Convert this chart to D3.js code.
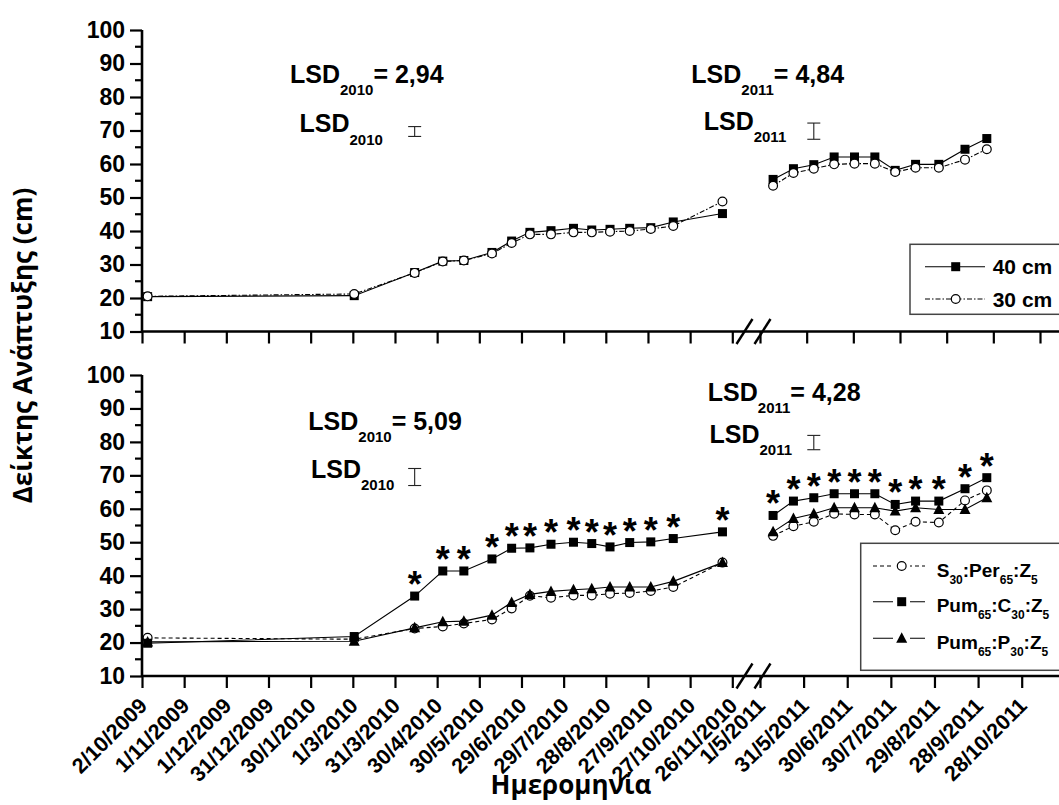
<!DOCTYPE html>
<html>
<head>
<meta charset="utf-8">
<script src="https://cdn.jsdelivr.net/npm/d3@7"></script>
<style>
  body { margin: 0; background: #fff; }
  svg { display: block; font-family: "Liberation Sans", Arial, sans-serif; font-weight: bold; }
</style>
</head>
<body>
<svg id="chart" width="1059" height="805"></svg>
<script>
// sampling dates (same for both panels)
const dates2010 = ["6/10/2009", "2/3/2010", "14/4/2010", "4/5/2010", "19/5/2010", "8/6/2010", "22/6/2010", "5/7/2010",
                   "20/7/2010", "5/8/2010", "18/8/2010", "31/8/2010", "14/9/2010", "29/9/2010", "15/10/2010", "19/11/2010"];
const dates2011 = ["10/5/2011", "24/5/2011", "7/6/2011", "21/6/2011", "5/7/2011", "19/7/2011", "2/8/2011", "16/8/2011",
                   "1/9/2011", "19/9/2011", "4/10/2011"];

// top panel: planting distance
const cm40_2010 = [20.4, 20.7, 27.6, 31.0, 31.2, 33.6, 37.0, 39.6, 40.1, 40.8, 40.3, 40.5, 40.8, 41.0, 42.7, 45.2];
const cm40_2011 = [55.4, 58.6, 59.8, 62.1, 62.1, 62.1, 58.1, 59.9, 59.9, 64.4, 67.6];
const cm30_2010 = [20.5, 21.2, 27.5, 30.9, 31.2, 33.3, 36.4, 39.0, 39.0, 39.6, 39.6, 39.8, 40.0, 40.6, 41.5, 48.8];
const cm30_2011 = [53.5, 57.3, 58.6, 59.9, 60.1, 60.1, 57.6, 58.9, 58.9, 61.3, 64.4];

// bottom panel: substrates
const sper_2010 = [21.4, 21.0, 24.2, 24.8, 25.7, 26.9, 30.2, 34.0, 33.4, 34.1, 34.1, 34.6, 34.8, 35.4, 36.6, 43.9];
const sper_2011 = [51.9, 54.8, 56.1, 58.5, 58.3, 58.3, 53.6, 56.1, 55.9, 62.5, 65.5];
const pumc_2010 = [19.8, 21.8, 33.9, 41.4, 41.4, 45.0, 48.2, 48.3, 49.4, 50.0, 49.6, 48.6, 49.9, 50.1, 51.1, 53.1];
const pumc_2011 = [58.0, 62.3, 63.3, 64.5, 64.5, 64.5, 61.3, 62.3, 62.3, 66.0, 69.3];
const pump_2010 = [20.2, 20.4, 24.4, 26.2, 26.4, 28.2, 32.0, 34.4, 35.3, 35.8, 36.1, 36.6, 36.6, 36.6, 38.3, 43.9];
const pump_2011 = [53.1, 57.1, 58.5, 60.3, 60.3, 60.3, 59.3, 60.3, 59.8, 59.8, 63.3];

// significant differences (asterisks above Pum:C:Z)
const stars2010 = [0, 0, 1, 1, 1, 1, 1, 1, 1, 1, 1, 1, 1, 1, 1, 1];
const stars2011 = [1, 1, 1, 1, 1, 1, 1, 1, 1, 1, 1];

// LSD values and where their bars are drawn
const lsdValues = [2.94, 4.84, 5.09, 4.28];
const lsdYears = ["2010", "2011", "2010", "2011"];
const lsdDates = ["14/4/2010", "7/6/2011", "14/4/2010", "7/6/2011"];
const lsdCentres = [69.7, 69.8, 69.5, 79.8];

const tickLabels = ["2/10/2009", "1/11/2009", "1/12/2009", "31/12/2009", "30/1/2010", "1/3/2010", "31/3/2010", "30/4/2010",
                    "30/5/2010", "29/6/2010", "29/7/2010", "28/8/2010", "27/9/2010", "27/10/2010", "26/11/2010",
                    "1/5/2011", "31/5/2011", "30/6/2011", "30/7/2011", "29/8/2011", "28/9/2011", "28/10/2011"];
const yTicks = [10, 20, 30, 40, 50, 60, 70, 80, 90, 100];

const parse = d3.utcParse("%d/%m/%Y");
const svg = d3.select("#chart");
const x0 = 142;

// broken time axis: 2009-2010 season, then 2011 season
const breakDomain = ["2/10/2009", "26/11/2010", "1/5/2011", "28/10/2011"].map(parse);
const x = d3.scaleUtc().domain(breakDomain).range([x0, 732.3, 760, 1021.7]);
const xTop = d3.scaleUtc().domain(breakDomain).range([x0, 732.3, 760, 1040]);

const yTop = d3.scaleLinear().domain([10, 100]).range([331.5, 30]);
const yBot = d3.scaleLinear().domain([10, 100]).range([676, 375]);

function drawAxes(y, xt, withLabels) {
    const base = y(10);
    const ya = svg.append("g")
        .attr("transform", `translate(${x0},0)`)
        .call(d3.axisLeft(y).tickValues(yTicks).tickSize(12).tickPadding(5))
        .attr("font-family", null).attr("font-size", 23).attr("font-weight", "bold");
    ya.select(".domain").remove();
    ya.selectAll("line").attr("stroke-width", 2.2);
    // minor ticks
    ya.selectAll(".minor").data(d3.range(15, 100, 10)).enter().append("line")
        .attr("x1", -7).attr("x2", 0).attr("y1", d => y(d)).attr("y2", d => y(d))
        .attr("stroke", "#000").attr("stroke-width", 2.2);
    svg.append("line").attr("x1", x0).attr("x2", x0).attr("y1", y(100)).attr("y2", base)
        .attr("stroke", "#000").attr("stroke-width", 2.6);

    const xa = svg.append("g")
        .attr("transform", `translate(0,${base})`)
        .call(d3.axisBottom(xt).tickValues(tickLabels.map(parse)).tickSize(12)
            .tickFormat((d, i) => withLabels ? tickLabels[i] : ""))
        .attr("font-family", null).attr("font-size", 21.5).attr("font-weight", "bold");
    xa.select(".domain").remove();
    xa.selectAll("line").attr("stroke-width", 2.2);
    xa.selectAll("text")
        .attr("y", null).attr("dy", null)
        .attr("text-anchor", "end")
        .attr("transform", "translate(6,31) rotate(-45)");
    svg.append("line").attr("x1", x0).attr("x2", 1059).attr("y1", base).attr("y2", base)
        .attr("stroke", "#000").attr("stroke-width", 2.6);

    // axis break marks
    [[736.5, 752.5], [754.5, 770.5]].forEach(s => {
        svg.append("line").attr("x1", s[0]).attr("y1", base + 12.5).attr("x2", s[1]).attr("y2", base - 12.5)
            .attr("stroke", "#000").attr("stroke-width", 2.4);
    });
}

function marker(g, kind, cx, cy) {
    if (kind === "square") {
        g.append("rect").attr("x", cx - 4.5).attr("y", cy - 4.5).attr("width", 9).attr("height", 9).attr("fill", "#000");
    } else if (kind === "circle") {
        g.append("circle").attr("cx", cx).attr("cy", cy).attr("r", 4.4)
            .attr("fill", "#fff").attr("stroke", "#000").attr("stroke-width", 1.2);
    } else {
        g.append("path").attr("d", `M${cx},${cy - 6}L${cx + 5.5},${cy + 4.5}L${cx - 5.5},${cy + 4.5}Z`).attr("fill", "#000");
    }
}

function drawSeries(y, v2010, v2011, kind, dash) {
    const g = svg.append("g");
    const line = d3.line().x(d => x(d[0])).y(d => y(d[1]));
    [[dates2010, v2010], [dates2011, v2011]].forEach(([ds, vs]) => {
        const pts = ds.map((d, i) => [parse(d), vs[i]]);
        g.append("path").attr("d", line(pts)).attr("fill", "none")
            .attr("stroke", "#000").attr("stroke-width", 1.1).attr("stroke-dasharray", dash);
        pts.forEach(p => marker(g, kind, x(p[0]), y(p[1])));
    });
}

// text with subscripts: parts = [[text, isSub], ...]
function richText(px, py, parts, size, subSize, subDy) {
    const t = svg.append("text").attr("x", px).attr("y", py).attr("font-size", size);
    let down = false;
    parts.forEach(([s, sub]) => {
        const ts = t.append("tspan").text(s);
        if (sub && !down) { ts.attr("dy", subDy).attr("font-size", subSize); down = true; }
        else if (sub) { ts.attr("font-size", subSize); }
        else if (down) { ts.attr("dy", -subDy); down = false; }
    });
    return t;
}

function lsdBar(y, i) {
    const cx = x(parse(lsdDates[i]));
    const y1 = y(lsdCentres[i] - lsdValues[i] / 2), y2 = y(lsdCentres[i] + lsdValues[i] / 2);
    const g = svg.append("g").attr("stroke", "#222").attr("stroke-width", 1.1);
    g.append("line").attr("x1", cx).attr("x2", cx).attr("y1", y1).attr("y2", y2);
    g.append("line").attr("x1", cx - 6.5).attr("x2", cx + 6.5).attr("y1", y1).attr("y2", y1);
    g.append("line").attr("x1", cx - 6.5).attr("x2", cx + 6.5).attr("y1", y2).attr("y2", y2);
}

const lsdLabel = v => "= " + d3.format(".2f")(v).replace(".", ",");

// ---- top panel
drawAxes(yTop, xTop, false);
drawSeries(yTop, cm40_2010, cm40_2011, "square", null);
drawSeries(yTop, cm30_2010, cm30_2011, "circle", "5,2,1.5,2");

richText(290, 82.8, [["LSD", 0], [lsdYears[0], 1], [lsdLabel(lsdValues[0]), 0]], 25, 15, 12);
richText(299.5, 131.8, [["LSD", 0], [lsdYears[0], 1]], 25, 15, 13);
lsdBar(yTop, 0);
richText(691.3, 82.7, [["LSD", 0], [lsdYears[1], 1], [lsdLabel(lsdValues[1]), 0]], 25, 15, 12);
richText(703.7, 129.9, [["LSD", 0], [lsdYears[1], 1]], 25, 15, 12.5);
lsdBar(yTop, 1);

// legend (top)
svg.append("rect").attr("x", 910).attr("y", 244.3).attr("width", 200).attr("height", 70)
    .attr("fill", "#fff").attr("stroke", "#444").attr("stroke-width", 1.5);
[["40 cm", "square", null, 266.7], ["30 cm", "circle", "5,2,1.5,2", 299]].forEach(([lab, kind, dash, ly]) => {
    svg.append("line").attr("x1", 925).attr("x2", 985).attr("y1", ly).attr("y2", ly)
        .attr("stroke", "#000").attr("stroke-width", 1.1).attr("stroke-dasharray", dash);
    marker(svg, kind, 955.7, ly);
    svg.append("text").attr("x", 992.7).attr("y", ly).attr("dy", "0.36em").attr("font-size", 21).text(lab);
});

// ---- bottom panel
drawAxes(yBot, x, true);
drawSeries(yBot, sper_2010, sper_2011, "circle", "4,3");
drawSeries(yBot, pumc_2010, pumc_2011, "square", null);
drawSeries(yBot, pump_2010, pump_2011, "triangle", null);

// asterisks
[[dates2010, pumc_2010, stars2010], [dates2011, pumc_2011, stars2011]].forEach(([ds, vs, st]) => {
    ds.forEach((d, i) => {
        if (!st[i]) return;
        svg.append("text").attr("x", x(parse(d))).attr("y", yBot(vs[i]) + 1)
            .attr("text-anchor", "middle").attr("font-size", 36).text("*");
    });
});

richText(308.3, 429.5, [["LSD", 0], [lsdYears[2], 1], [lsdLabel(lsdValues[2]), 0]], 25, 15, 12);
richText(311, 478.3, [["LSD", 0], [lsdYears[2], 1]], 25, 15, 12);
lsdBar(yBot, 2);
richText(707.8, 400.5, [["LSD", 0], [lsdYears[3], 1], [lsdLabel(lsdValues[3]), 0]], 25, 15, 12);
richText(709.5, 442.7, [["LSD", 0], [lsdYears[3], 1]], 25, 15, 12);
lsdBar(yBot, 3);

// legend (bottom)
svg.append("rect").attr("x", 860.7).attr("y", 543.3).attr("width", 220).attr("height", 127)
    .attr("fill", "#fff").attr("stroke", "#444").attr("stroke-width", 1.5);
const legendRows = [
    [[["S", 0], ["30", 1], [":Per", 0], ["65", 1], [":Z", 0], ["5", 1]], "circle", "4,3", 566],
    [[["Pum", 0], ["65", 1], [":C", 0], ["30", 1], [":Z", 0], ["5", 1]], "square", null, 601.7],
    [[["Pum", 0], ["65", 1], [":P", 0], ["30", 1], [":Z", 0], ["5", 1]], "triangle", null, 638.3]
];
legendRows.forEach(([parts, kind, dash, ly]) => {
    svg.append("line").attr("x1", 873).attr("x2", 925).attr("y1", ly).attr("y2", ly)
        .attr("stroke", "#000").attr("stroke-width", 1.1).attr("stroke-dasharray", dash);
    svg.append("rect").attr("x", 893).attr("y", ly - 6).attr("width", 17).attr("height", 12).attr("fill", "#fff");
    marker(svg, kind, 901.7, ly);
    richText(936.7, ly + 10.5, parts, 19, 12, 7);
});

// axis titles
svg.append("text").attr("transform", "translate(32,345.5) rotate(-90)")
    .attr("text-anchor", "middle").attr("font-family", "'Open Sans', sans-serif").attr("font-size", 26)
    .text("Δείκτης Ανάπτυξης (cm)");
svg.append("text").attr("x", 571).attr("y", 793.5)
    .attr("text-anchor", "middle").attr("font-family", "'Open Sans', sans-serif").attr("font-size", 26)
    .text("Ημερομηνία");
</script>
</body>
</html>
